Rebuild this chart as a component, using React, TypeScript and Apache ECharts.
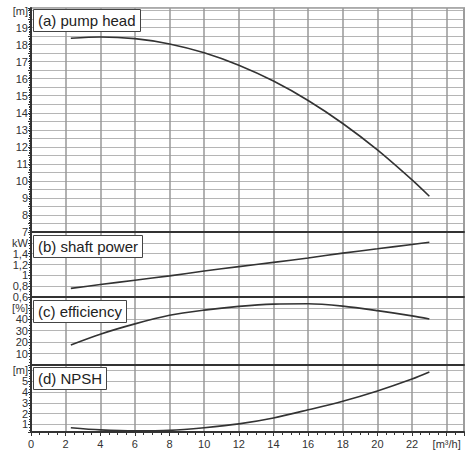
import React, { useEffect, useRef } from "react";
import * as echarts from "echarts";

// Flow rate [m³/h] at which the curves were read
const flow = [2.3, 4, 6, 8, 10, 12, 14, 16, 18, 20, 22, 23];
// (a) pump head [m]
const head = [18.37, 18.45, 18.35, 18.04, 17.52, 16.79, 15.86, 14.72, 13.37, 11.82, 10.06, 9.1];
// (b) shaft power [kW]
const power = [0.76, 0.83, 0.91, 0.99, 1.08, 1.16, 1.24, 1.32, 1.41, 1.49, 1.57, 1.61];
// (c) efficiency [%]
const efficiency = [17.6, 27, 36, 43.5, 48, 51.3, 53.3, 53.6, 51.5, 47.6, 43, 40.2];
// (d) NPSH [m]
const npsh = [0.7, 0.5, 0.4, 0.45, 0.7, 1.05, 1.6, 2.35, 3.15, 4.1, 5.2, 5.85];

const panelTitles = ["(a) pump head", "(b) shaft power", "(c) efficiency", "(d) NPSH"];
const xUnit = "[m³/h]";
const headUnit = "[m]";
const powerUnit = "kW";
const effUnit = "[%]";
const npshUnit = "[m]";

const near = (a: number, b: number) => Math.abs(a - b) < 1e-6;
const pairs = (ys: number[]) => flow.map((x, i) => [x, ys[i]]);

export default function App() {
  const ref = useRef<HTMLDivElement>(null);
  useEffect(() => {
    if (!ref.current) return;
    const chart = echarts.init(ref.current, undefined, { renderer: "svg" });
    const font = "Liberation Sans";
    const grids = [
      { left: 31, top: 8, width: 433, height: 224 },
      { left: 31, top: 232, width: 433, height: 65 },
      { left: 31, top: 297, width: 433, height: 68 },
      { left: 31, top: 365, width: 433, height: 67 },
    ].map((g) => ({ ...g, show: true, borderColor: "#aaa", borderWidth: 2, backgroundColor: "#fff" }));

    const xAxes = grids.map((_, i) => ({
      type: "value",
      gridIndex: i,
      min: 0,
      max: 25,
      interval: 2,
      axisLine: { show: true, onZero: false, lineStyle: { color: "#333", width: 2 } },
      axisTick: i === 3 ? { show: true, length: 4, lineStyle: { color: "#333" } } : { show: false },
      minorTick: i === 3 ? { show: true, splitNumber: 4, length: 3, lineStyle: { color: "#333" } } : { show: false },
      axisLabel:
        i === 3
          ? {
              show: true,
              fontFamily: font,
              fontSize: 11,
              color: "#333",
              margin: 6,
              formatter: (v: number) => (near(v, 24) ? xUnit : near(v, 25) ? "" : String(v)),
            }
          : { show: false },
      splitLine: { show: true, lineStyle: { color: "#999", width: 1.5 } },
    }));

    const yBase = (i: number) => ({
      type: "value",
      gridIndex: i,
      axisLine: { show: true, onZero: false, lineStyle: { color: "#333", width: 2 } },
      axisTick: { show: true, length: 3, lineStyle: { color: "#333" } },
      splitLine: { show: true, lineStyle: { color: "#b5b5b5", width: 1.2 } },
    });
    const lab = (formatter: (v: number) => string) => ({
      show: true,
      fontFamily: font,
      fontSize: 11,
      color: "#333",
      margin: 3,
      formatter,
    });

    const yAxes = [
      {
        ...yBase(0),
        min: 7,
        max: 20.15,
        interval: 0.5,
        minorTick: { show: true, splitNumber: 5, length: 2, lineStyle: { color: "#333" } },
        axisLabel: lab((v: number) => {
          if (near(v, 20)) return headUnit;
          if (near(v, Math.round(v)) && v < 19.9) return String(Math.round(v));
          return "";
        }),
      },
      {
        ...yBase(1),
        min: 0.6,
        max: 1.8,
        interval: 0.2,
        minorTick: { show: true, splitNumber: 4, length: 2, lineStyle: { color: "#333" } },
        axisLabel: lab((v: number) => {
          if (near(v, 1.6)) return powerUnit;
          if (near(v, 1.8)) return "";
          const r = Math.round(v * 10) / 10;
          return String(r).replace(".", ",");
        }),
      },
      {
        ...yBase(2),
        min: 0,
        max: 59.5,
        interval: 10,
        minorTick: { show: true, splitNumber: 4, length: 2, lineStyle: { color: "#333" } },
        axisLabel: lab((v: number) => {
          if (near(v, 50)) return effUnit;
          if (v > 5 && v < 45 && near(v % 10, 0)) return String(v);
          return "";
        }),
      },
      {
        ...yBase(3),
        min: 0.3,
        max: 6.5,
        splitNumber: 6,
        minorTick: { show: true, splitNumber: 4, length: 2, lineStyle: { color: "#333" } },
        axisLabel: lab((v: number) => {
          if (near(v, 6)) return npshUnit;
          if (near(v, Math.round(v)) && v >= 1 && v <= 5) return String(Math.round(v));
          return "";
        }),
      },
    ];

    const titleTops = [9, 235, 300, 367];
    const title = panelTitles.map((t, i) => ({
      text: t,
      left: 33,
      top: titleTops[i],
      padding: [3, 5, 3, 5],
      borderWidth: 1,
      borderColor: "#444",
      backgroundColor: "#fff",
      textStyle: { fontFamily: font, fontSize: 15, fontWeight: "normal", color: "#222", lineHeight: 17 },
    }));

    const seriesData = [head, power, efficiency, npsh];
    const series = seriesData.map((d, i) => ({
      type: "line",
      xAxisIndex: i,
      yAxisIndex: i,
      data: pairs(d),
      smooth: 0.3,
      showSymbol: false,
      lineStyle: { color: "#333", width: 1.6 },
      z: 3,
    }));

    chart.setOption({
      animation: false,
      backgroundColor: "#fff",
      title,
      grid: grids,
      xAxis: xAxes,
      yAxis: yAxes,
      series,
    } as any);
    return () => chart.dispose();
  }, []);
  return (
    <div
      ref={ref}
      style={{ position: "fixed", left: 0, top: 0, width: 468, height: 451, background: "#fff" }}
    />
  );
}
